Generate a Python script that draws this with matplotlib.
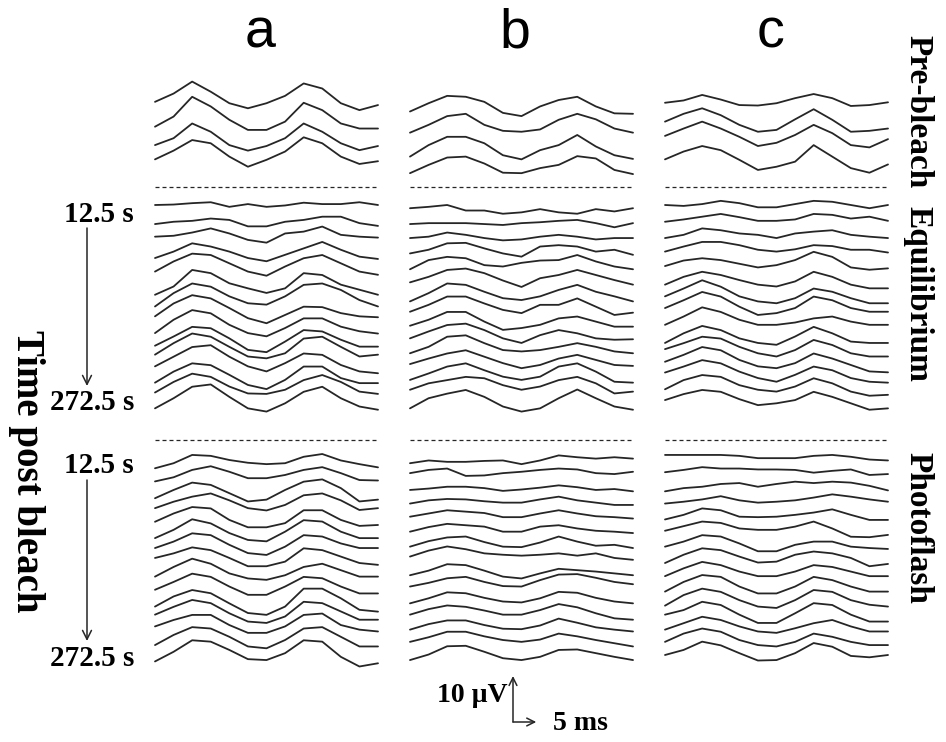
import numpy as np
import matplotlib.pyplot as plt

# sample times along each sweep (ms)
time_ms = [0, 4, 8, 12, 16, 20, 24, 28, 32, 36, 40, 44, 48]
columns = ["a", "b", "c"]
sections = ["Pre-bleach", "Equilibrium", "Photoflash"]
time_labels = ["12.5 s", "272.5 s"]
axis_title = "Time post bleach"
scale_uv = 10
scale_ms = 5

# ERG sweeps in µV around each trace baseline, top trace first
pre_a = [
    [-0.4, 1.4, 4.0, 1.8, -0.7, -1.8, -0.7, 0.9, 3.6, 2.5, -0.7, -2.2, -1.1],
    [-1.6, 0.6, 4.9, 2.8, -0.1, -2.3, -2.3, -0.5, 3.6, 2.0, -0.9, -2.0, -2.0],
    [-1.4, 0.1, 3.3, 1.5, -1.4, -2.6, -1.6, 0.1, 3.3, 1.5, -1.0, -2.5, -1.6],
    [-0.3, 1.6, 3.9, 3.2, 0.3, -1.9, -0.4, 1.4, 4.5, 3.2, 0.3, -1.3, -0.7],
]
pre_b = [
    [-2.5, -0.7, 0.9, 0.7, -0.4, -2.8, -3.5, -1.4, 0.0, 0.7, -1.4, -2.9, -3.0],
    [-2.9, -1.2, 0.7, 1.2, -1.2, -2.5, -2.7, -2.2, -0.1, 1.2, 0.0, -2.0, -2.9],
    [-3.9, -1.4, 0.4, 0.4, -1.0, -3.6, -4.5, -2.5, -1.4, 0.8, -1.7, -3.6, -4.4],
    [-3.3, -1.5, 0.1, 0.3, -1.2, -3.2, -3.3, -2.2, -1.5, 0.4, -0.1, -2.6, -3.5],
]
pre_c = [
    [-0.6, -0.1, 1.1, 0.1, -1.1, -1.2, -0.7, 0.4, 1.3, 0.4, -1.3, -1.1, -0.5],
    [-0.5, 1.2, 2.4, 0.9, -1.2, -2.7, -2.3, 0.0, 2.2, -0.1, -2.7, -2.5, -2.0],
    [0.6, 2.2, 3.7, 2.2, 0.4, -1.6, -0.9, 0.8, 3.0, 1.2, -1.4, -1.9, -0.1],
    [-0.3, 1.4, 2.6, 1.7, -0.4, -2.6, -1.9, -0.8, 2.8, 0.3, -2.2, -3.2, -1.4],
]

eq_a = [
    [0.0, 0.1, 0.4, 0.6, -0.4, 0.2, -0.4, -0.1, 0.5, 0.2, 0.2, 0.6, 0.0],
    [-1.1, -0.6, -0.4, 0.1, -0.2, -1.6, -1.6, -0.6, -0.2, 0.5, 0.5, -0.9, -1.5],
    [-0.8, -0.6, 0.1, 1.0, -0.1, -1.5, -2.1, -0.1, 0.3, 1.4, -0.4, -0.8, -1.0],
    [-2.4, -1.0, 0.8, 0.1, -1.0, -2.4, -3.1, -1.7, -0.3, 1.1, -0.6, -2.1, -2.6],
    [-2.3, -0.1, 1.6, 1.3, -0.5, -2.3, -3.2, -1.2, 0.6, 1.3, -0.5, -2.3, -3.0],
    [-4.3, -2.5, 1.1, 0.4, -1.8, -2.9, -3.9, -2.9, 0.4, 0.0, -2.1, -3.2, -4.3],
    [-3.8, -0.9, 1.2, 0.5, -1.6, -3.1, -3.4, -1.6, 0.9, 1.2, -0.2, -2.4, -3.8],
    [-2.9, -0.1, 1.7, 1.0, -1.1, -3.3, -4.4, -2.6, -0.8, -0.9, -2.2, -2.9, -3.1],
    [-3.5, -0.6, 1.5, 0.8, -1.7, -3.5, -4.2, -2.4, -0.3, -0.3, -2.1, -3.1, -3.6],
    [-3.2, -1.2, 0.9, 0.6, -1.6, -4.1, -4.6, -2.3, 0.2, -0.1, -1.9, -3.4, -3.4],
    [-2.1, 0.4, 2.5, 1.8, -0.4, -2.5, -2.9, -1.8, 1.4, 1.8, -0.4, -2.5, -2.1],
    [-1.6, 0.5, 2.6, 3.0, 0.5, -1.6, -2.7, -0.9, 1.2, 0.9, -1.3, -2.7, -3.1],
    [-2.1, 0.3, 2.1, 1.7, -0.4, -2.6, -3.5, -1.5, 1.4, 1.4, -1.1, -2.2, -2.2],
    [-1.2, 1.1, 2.9, 2.2, 0.1, -1.4, -1.5, -0.6, 1.5, 2.6, 1.1, -1.0, -1.5],
    [-1.6, 0.6, 3.1, 3.6, 0.9, -1.6, -2.3, -0.5, 2.0, 3.1, 0.6, -1.2, -1.9],
]
eq_b = [
    [-0.7, -0.4, 0.0, -1.2, -1.2, -1.9, -1.6, -0.9, -1.6, -1.9, -0.9, -1.4, -0.7],
    [-1.1, -0.9, -0.9, -0.9, -1.1, -1.3, -0.9, -0.7, -0.4, -0.2, -0.9, -1.8, -0.9],
    [-1.1, -0.8, 0.1, -0.4, -1.1, -1.6, -1.4, -0.8, -0.4, -0.8, -1.4, -1.1, -1.1],
    [-1.4, -0.6, 0.8, 0.9, -0.3, -1.4, -2.1, 0.1, 0.4, 0.1, -1.0, -0.6, -1.7],
    [-1.8, 0.2, 0.9, 0.6, -0.9, -1.2, -0.4, 0.1, 0.2, 1.3, -0.1, -1.2, -1.8],
    [-1.6, -0.4, 1.1, 1.4, 0.4, -1.2, -2.6, -0.7, 0.0, 1.1, 0.0, -1.1, -2.1],
    [-2.7, -0.9, 1.2, 0.9, -0.6, -2.0, -2.4, -1.6, -0.2, 0.9, -0.6, -1.6, -2.7],
    [-1.9, -0.4, 1.4, 1.4, -0.1, -1.5, -2.2, -0.4, -0.4, 1.0, -0.8, -2.6, -2.1],
    [-1.9, -0.6, 1.1, 1.1, -1.0, -2.8, -2.4, -1.7, -0.3, 0.1, -1.0, -2.1, -2.1],
    [-1.6, -0.1, 1.3, 1.6, 0.2, -1.6, -2.6, -0.9, 0.2, -0.5, -1.6, -1.9, -1.8],
    [-1.8, -0.4, 1.8, 2.1, 0.4, -1.1, -1.4, -1.1, -0.4, 0.4, -0.4, -1.4, -1.8],
    [-1.1, 0.1, 1.2, 1.9, 0.5, -0.9, -2.0, -1.3, 0.1, 0.9, -0.2, -1.3, -1.5],
    [-1.5, -0.1, 1.4, 2.1, 0.6, -0.8, -1.5, -0.8, 1.4, 2.1, 0.3, -1.9, -2.1],
    [-0.6, 0.8, 1.5, 2.2, 1.9, 0.4, -0.6, 0.1, 1.5, 2.2, 0.8, -1.4, -1.0],
    [-1.6, 0.6, 1.6, 2.4, 0.9, -1.2, -2.3, -1.6, 0.6, 2.5, 0.6, -1.2, -1.9],
]
eq_c = [
    [0.0, -0.2, 0.2, 0.9, 0.4, -0.5, -0.5, 0.2, 0.9, 0.7, 0.0, -0.7, 0.0],
    [-0.6, -0.1, 0.5, 1.1, 0.4, -0.4, -0.4, -0.1, 1.1, 0.9, 0.1, 0.5, -0.4],
    [-1.1, -0.4, 1.0, 0.6, -0.1, -0.4, -1.1, -0.1, 0.3, 0.6, -0.4, -0.8, -1.1],
    [-1.0, 0.1, 1.1, 1.1, 0.4, -0.6, -1.0, -0.5, 0.4, 0.2, -0.6, -0.6, -1.2],
    [-1.1, 0.1, 0.6, 0.2, -0.6, -1.4, -0.9, 0.2, 2.0, 0.9, -1.4, -1.9, -1.6],
    [-2.1, -0.4, 0.7, 0.0, -1.1, -2.1, -2.5, -1.4, 0.7, -0.4, -2.1, -2.9, -2.9],
    [-1.6, 0.1, 1.9, 0.5, -1.6, -2.7, -3.1, -2.0, 0.1, -0.6, -2.0, -3.1, -3.1],
    [-1.1, 0.6, 2.4, 1.4, -0.8, -2.6, -2.2, -1.1, 1.4, 0.6, -1.1, -1.9, -1.9],
    [-1.7, 0.1, 2.1, 1.1, -0.6, -1.7, -1.7, -1.2, -0.3, 0.1, -1.0, -1.7, -1.7],
    [-2.6, -0.5, 1.1, 0.2, -1.6, -2.6, -3.0, -1.2, 0.9, -0.5, -2.3, -2.6, -2.6],
    [-0.9, 0.4, 1.8, 1.4, -0.4, -1.8, -2.5, -1.1, 1.1, 0.0, -1.8, -2.5, -2.5],
    [-0.6, 0.9, 2.6, 1.9, -0.2, -1.6, -2.0, -0.9, 1.2, 0.1, -1.3, -2.7, -2.9],
    [0.1, 1.4, 2.8, 2.1, 0.3, -1.1, -1.9, -0.4, 1.4, 0.6, -1.1, -1.9, -2.1],
    [-0.5, 1.5, 2.6, 2.2, 0.4, -0.6, -1.0, 0.1, 1.9, 0.8, -1.0, -1.9, -1.7],
    [0.2, 1.5, 2.4, 2.0, 0.4, -0.9, -0.5, 0.2, 2.0, 0.9, -0.5, -1.9, -1.6],
]

pf_a = [
    [-1.8, -0.7, 1.1, 0.9, 0.0, -0.6, -0.9, -0.7, 0.7, 1.3, -0.1, -0.9, -1.6],
    [-1.7, -0.8, 0.8, 1.6, 0.4, -1.0, -1.0, -0.3, 0.8, 1.4, 0.1, -1.4, -1.5],
    [-2.4, -0.6, 1.0, 0.5, -1.3, -3.1, -2.7, -0.6, 1.2, 1.7, -0.2, -3.1, -2.7],
    [-1.6, -0.2, 0.9, 1.6, 0.1, -1.6, -2.1, -0.9, 1.2, 1.6, 0.1, -2.0, -1.6],
    [-1.6, 0.2, 1.6, 1.3, -1.2, -2.8, -2.8, -1.9, 0.9, 0.9, -1.2, -2.5, -2.3],
    [-2.2, -0.4, 1.9, 1.0, -1.1, -2.6, -2.9, -0.8, 1.7, 1.4, -0.8, -2.2, -2.2],
    [-1.4, 0.0, 1.8, 1.4, -0.7, -2.5, -2.9, -1.1, 1.4, 1.1, -0.4, -1.4, -1.4],
    [-0.6, 0.4, 1.7, 1.1, -0.6, -2.4, -2.4, -1.4, 1.5, 1.1, -0.3, -1.7, -2.1],
    [-1.7, 0.4, 2.2, 1.1, -1.0, -2.1, -2.4, -1.4, 0.4, 1.1, -0.3, -1.7, -1.7],
    [-1.6, 0.1, 1.9, 1.2, -0.9, -2.7, -2.7, -0.9, 1.2, 0.9, -0.9, -2.4, -2.4],
    [-2.3, -0.1, 1.3, 0.6, -1.6, -3.7, -4.1, -2.3, 1.6, 1.6, -0.5, -3.0, -3.4],
    [-1.1, 0.6, 2.1, 1.4, -0.8, -2.6, -2.9, -1.5, 1.7, 1.4, -0.4, -2.2, -2.2],
    [-0.7, 0.7, 1.8, 1.8, -0.4, -2.1, -2.1, -0.7, 1.8, 2.1, -0.4, -1.4, -1.8],
    [-1.8, 0.4, 2.1, 1.8, 0.0, -2.1, -2.5, -0.7, 1.8, 2.1, 0.0, -2.1, -2.1],
    [-2.4, -0.3, 2.2, 1.9, 0.1, -1.9, -2.1, -0.6, 2.2, 1.9, -1.4, -3.5, -2.8],
]
pf_b = [
    [-0.7, -0.1, -0.4, -0.4, -0.2, -0.1, -0.9, -0.1, 1.0, 0.6, 0.3, 0.6, 0.3],
    [0.1, 0.8, 1.1, -0.5, -0.4, 0.1, 0.4, 0.8, 1.1, 0.9, 0.1, -0.1, 0.4],
    [-0.6, -0.3, 0.1, 0.1, -0.2, -0.8, -0.5, -0.1, 0.4, 0.0, -0.6, -0.4, -0.9],
    [-0.6, 0.1, 0.4, 0.3, -0.1, -0.4, -0.4, 0.3, 0.9, 0.1, -0.4, -0.9, -0.9],
    [-0.5, 0.2, 0.9, 0.6, 0.3, -0.6, -0.6, 0.2, 0.9, 0.2, -0.4, -0.6, -0.9],
    [-0.8, 0.2, 0.9, 0.6, 0.3, -0.8, -0.8, 0.3, 0.6, -0.1, -0.6, -0.8, -1.1],
    [-1.1, 0.1, 0.9, 1.1, -0.1, -1.1, -1.2, -0.2, 1.1, 0.0, -0.9, -0.7, -1.4],
    [-0.3, 1.0, 1.9, 1.3, 0.4, 0.1, -0.1, 0.1, 0.4, -0.1, 0.4, -0.6, -1.0],
    [-1.4, -0.4, 1.0, 0.8, -0.4, -1.7, -2.1, -1.0, 0.0, -0.3, -0.6, -1.0, -1.4],
    [-0.9, -0.1, 0.9, 1.2, 0.1, -0.8, -0.9, 0.5, 1.7, 1.8, 1.0, 0.1, -0.4],
    [-1.6, -0.5, 0.8, 0.6, -0.4, -1.2, -1.4, -0.5, 0.9, 0.7, -0.4, -1.2, -1.6],
    [-1.1, 0.1, 0.9, 0.6, -0.2, -1.1, -1.1, -0.1, 1.2, 0.5, -0.8, -1.9, -2.2],
    [-1.4, -0.2, 0.6, 0.6, -0.4, -1.2, -1.3, -0.5, 1.0, 0.1, -0.9, -1.4, -1.8],
    [-1.1, -0.1, 1.1, 1.1, 0.1, -0.7, -1.1, -0.6, 0.7, 0.1, -0.7, -1.4, -2.1],
    [-2.1, -0.9, 0.9, 1.0, -0.3, -1.7, -2.1, -1.4, 0.1, 0.2, -0.6, -1.4, -2.1],
]
pf_c = [
    [1.1, 1.1, 1.1, 1.1, 0.9, 0.4, 0.4, 0.4, 0.9, 1.1, 0.7, 0.1, -0.1],
    [0.3, 0.8, 1.4, 1.1, 1.1, 0.9, 0.9, 0.8, 0.2, 0.6, 0.9, -0.3, -0.1],
    [-0.9, -0.2, 0.1, 0.7, 0.9, 0.1, 0.7, 1.2, 0.9, 1.2, 1.0, 0.3, -0.7],
    [-0.6, -0.2, 0.3, 1.0, 0.1, -0.4, -0.2, 0.1, 0.7, 1.4, 0.9, 0.3, -0.2],
    [-1.1, -0.1, 1.3, 0.9, -0.5, -0.6, -0.5, -0.1, 0.4, 1.1, -0.1, -1.2, -1.2],
    [-0.6, 0.4, 1.4, 1.1, -0.1, -0.4, -0.4, 0.3, 1.4, -0.1, -1.9, -2.0, -1.5],
    [-1.1, 0.0, 1.4, 1.1, -0.4, -2.1, -2.1, -0.7, 0.0, 0.0, -1.1, -1.4, -1.6],
    [-1.7, 0.1, 1.5, 1.1, -0.3, -1.6, -1.4, 0.1, 0.8, 0.4, -0.6, -2.4, -1.9],
    [-1.6, 0.1, 1.5, 0.8, -0.6, -1.6, -1.6, -0.6, 0.8, 0.4, -0.6, -1.6, -1.6],
    [-2.0, 0.1, 1.6, 1.2, -0.9, -2.4, -2.4, -0.9, 1.2, 0.5, -0.9, -2.0, -2.0],
    [-2.1, 0.2, 1.6, 0.9, -0.9, -2.3, -2.6, -0.9, 1.3, 0.9, -0.9, -1.9, -2.3],
    [-1.1, -0.1, 1.7, 1.0, -1.1, -2.9, -2.9, -0.8, 1.4, 1.0, -1.1, -2.6, -2.6],
    [-1.4, 0.0, 1.4, 0.7, -0.7, -1.8, -2.1, -1.1, 0.0, 0.7, -0.7, -1.8, -1.8],
    [-1.1, 0.7, 1.8, 1.1, -0.7, -1.8, -2.1, -1.1, 0.7, 0.0, -1.1, -1.8, -1.8],
    [-1.0, 0.1, 1.9, 1.1, -0.6, -2.2, -2.1, -0.6, 1.6, 0.8, -1.2, -1.5, -1.0],
]

panels = [[pre_a, pre_b, pre_c], [eq_a, eq_b, eq_c], [pf_a, pf_b, pf_c]]

# layout (pixels of the 946x742 canvas)
W, H = 946, 742
PX_MS = 4.646
PX_UV = 4.6
col_px = [155, 410, 665]
sec_base_px = [100, 205, 460]
sec_step_px = [19.33, 14.0, 13.6]
dash_px = [187, 440]
ink = "#262626"
serif = ["Liberation Serif", "DejaVu Serif"]

def xd(px):
    return (px - col_px[0]) / PX_MS

def yd(py):
    return -(py - sec_base_px[0]) / PX_UV

fig = plt.figure(figsize=(W / 100, H / 100), dpi=100)
ax = fig.add_axes([0, 0, 1, 1])
ax.set_xlim(xd(0), xd(W))
ax.set_ylim(yd(H), yd(0))
ax.axis("off")

t = np.array(time_ms, dtype=float)
for si, sec in enumerate(panels):
    for ci, traces in enumerate(sec):
        x0 = xd(col_px[ci])
        for i, tr in enumerate(traces):
            base = yd(sec_base_px[si] + i * sec_step_px[si])
            ax.plot(t + x0, base + np.array(tr), color=ink, lw=1.3,
                    solid_joinstyle="round", solid_capstyle="round")

# dashed separators
for ci in range(3):
    x0 = xd(col_px[ci])
    for dp in dash_px:
        ax.plot([x0, x0 + time_ms[-1]], [yd(dp), yd(dp)], color=ink, lw=0.9,
                ls=(0, (3.2, 2.4)))

def fpx(x, y):
    return x / W, 1 - y / H

# column letters
for ci, name in enumerate(columns):
    fig.text(*fpx(col_px[ci] + 105, 34), name, fontsize=40,
             family=["Liberation Sans", "DejaVu Sans"], ha="center", va="center")

# section names on the right
sec_centers = [112, 294, 528]
for name, cy in zip(sections, sec_centers):
    fig.text(*fpx(918, cy), name, fontsize=24, family=serif, weight="bold",
             rotation=-90, ha="center", va="center")

# time labels and arrows
for top, bot in [(214, 403), (466, 658)]:
    fig.text(*fpx(134, top), time_labels[0], fontsize=21, family=serif,
             weight="bold", ha="right", va="center")
    fig.text(*fpx(134, bot), time_labels[1], fontsize=21, family=serif,
             weight="bold", ha="right", va="center")
    ax.annotate("", xy=(xd(87), yd(bot - 17)), xytext=(xd(87), yd(top + 14)),
                arrowprops=dict(arrowstyle="->", color=ink, lw=1.1,
                                mutation_scale=16, shrinkA=0, shrinkB=0))

fig.text(*fpx(26, 471), axis_title, fontsize=28, family=serif, weight="bold",
         rotation=-90, ha="center", va="center")

# scale bar
sx, sy = xd(513), yd(722)
ax.annotate("", xy=(sx, sy + scale_uv), xytext=(sx, sy),
            arrowprops=dict(arrowstyle="->", color=ink, lw=1.1,
                            mutation_scale=14, shrinkA=0, shrinkB=0))
ax.annotate("", xy=(sx + scale_ms, sy), xytext=(sx, sy),
            arrowprops=dict(arrowstyle="->", color=ink, lw=1.1,
                            mutation_scale=14, shrinkA=0, shrinkB=0))
fig.text(*fpx(508, 696), f"{scale_uv} µV", fontsize=20, family=serif,
         weight="bold", ha="right", va="center")
fig.text(*fpx(553, 724), f"{scale_ms} ms", fontsize=20, family=serif,
         weight="bold", ha="left", va="center")

fig.savefig("out.png", dpi=100)
